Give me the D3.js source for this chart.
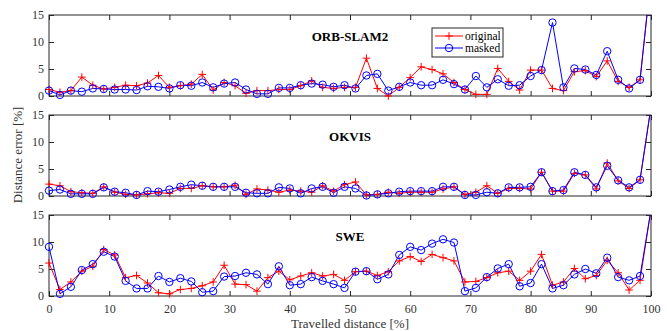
<!DOCTYPE html>
<html>
<head>
<meta charset="utf-8">
<script src="https://cdn.jsdelivr.net/npm/d3@7"></script>
<style>
  body { margin: 0; background: #fff; }
  svg text { font-family: "Liberation Serif", "DejaVu Serif", serif; fill: #262626; }
</style>
</head>
<body>
<svg id="chart" width="667" height="331"></svg>
<script>
// travelled distance: 56 samples from 0 to 100 %
var xs = d3.range(56).map(function (i) { return i * 100 / 55; });
var xTicks = [0, 10, 20, 30, 40, 50, 60, 70, 80, 90, 100];
var yTicks = [0, 5, 10, 15];
var titles = ["ORB-SLAM2", "OKVIS", "SWE"];
var seriesNames = ["original", "masked"];

var orbOriginal = [1.2,0.7,1.0,3.5,2.0,1.3,1.6,2.0,1.9,2.4,3.8,1.6,1.9,2.2,4.0,1.1,2.5,1.9,0.5,1.0,
  1.0,1.2,1.2,1.9,2.8,1.6,1.4,1.6,1.6,7.0,1.4,0.0,1.6,3.4,5.4,4.9,4.1,2.5,1.2,0.3,
  0.3,5.1,2.7,1.1,4.8,4.8,1.4,1.0,4.5,4.7,3.6,6.5,2.7,1.6,3.0,22];
var orbMasked = [1.0,0.2,1.0,0.8,1.4,1.3,1.2,1.2,1.1,1.8,1.7,1.4,2.0,1.9,2.5,1.6,2.3,2.5,1.2,0.4,
  0.4,1.5,1.5,2.0,2.3,2.1,1.7,2.0,1.4,3.8,4.1,1.0,1.7,2.5,2.0,2.0,3.0,2.2,1.2,3.7,
  1.6,3.1,1.9,2.0,3.7,4.8,13.6,1.6,5.1,4.9,3.9,8.3,3.0,1.4,3.0,22];
var okvisOriginal = [2.2,1.9,0.8,0.6,0.5,1.7,0.7,0.3,0.2,0.4,0.6,0.5,1.4,1.4,1.9,1.7,1.7,2.0,0.3,1.3,
  1.1,0.7,1.1,0.9,0.7,1.9,0.9,2.1,2.6,0.2,0.3,0.7,0.5,0.7,0.7,0.7,1.3,1.7,0.3,0.7,
  1.9,0.5,1.4,1.4,1.3,4.4,0.9,0.9,4.2,3.9,1.3,6.1,2.8,1.4,3.0,16.5];
var okvisMasked = [1.0,1.2,0.4,0.4,0.4,1.6,0.8,0.6,0.2,0.9,0.8,1.2,1.7,2.1,1.9,1.7,1.7,1.7,0.6,0.5,
  0.5,1.6,1.4,0.5,1.4,1.7,0.6,1.7,1.4,0.1,0.3,0.5,0.8,0.9,0.9,0.9,1.7,1.7,0.2,0.2,
  0.7,0.5,1.6,1.6,1.7,4.4,0.9,1.1,4.4,3.9,1.6,5.6,2.9,1.6,3.0,16.5];
var sweOriginal = [6.1,1.2,2.6,4.6,5.5,8.6,7.6,3.4,3.8,2.4,0.6,0.4,1.2,1.4,1.9,2.6,5.7,2.2,2.1,0.9,
  3.4,4.6,3.0,3.7,4.3,3.7,4.0,2.9,4.5,4.6,3.8,4.5,6.5,7.3,6.4,7.7,7.1,6.5,2.6,2.7,
  3.4,4.3,4.6,2.9,4.6,7.7,2.0,2.6,5.1,3.2,3.8,6.6,4.3,1.1,2.9,16];
var sweMasked = [9.1,0.4,1.7,4.8,5.9,8.2,7.3,2.8,1.4,1.4,3.7,2.6,3.3,2.7,0.7,0.9,3.6,3.7,4.3,4.0,
  2.2,5.5,2.0,2.2,3.5,2.8,2.2,1.5,4.5,4.6,3.1,4.0,7.6,9.1,8.5,9.7,10.5,9.9,0.9,1.5,
  3.5,5.1,5.9,1.8,2.4,5.9,1.4,2.0,4.0,5.0,4.2,7.1,3.5,2.9,3.7,16];

var panels = [
  {title: titles[0], original: orbOriginal, masked: orbMasked, top: 15, bottom: 96},
  {title: titles[1], original: okvisOriginal, masked: okvisMasked, top: 115, bottom: 196},
  {title: titles[2], original: sweOriginal, masked: sweMasked, top: 215, bottom: 296}
];

var svg = d3.select("#chart");
var left = 49, right = 651;
var x = d3.scaleLinear().domain([0, 100]).range([left, right]);
var axisColor = "#262626";

panels.forEach(function (p, k) {
  var y = d3.scaleLinear().domain([0, 15]).range([p.bottom, p.top]);
  var g = svg.append("g");

  g.append("clipPath").attr("id", "clip" + k)
    .append("rect")
    .attr("x", left).attr("y", p.top)
    .attr("width", right - left).attr("height", p.bottom - p.top);

  // ticks pointing inward on all four sides
  g.append("g").attr("transform", "translate(0," + p.bottom + ")")
    .call(d3.axisBottom(x).tickValues(xTicks).tickSizeInner(-5).tickSizeOuter(0)
      .tickFormat(k == 2 ? d3.format("d") : ""))
    .call(function (a) {
      a.select(".domain").remove();
      a.selectAll("line").attr("stroke", axisColor);
      a.selectAll("text").attr("font-size", 12).attr("dy", "1.15em").attr("y", 3).style("fill", "#333");
    });
  g.append("g").attr("transform", "translate(0," + p.top + ")")
    .call(d3.axisTop(x).tickValues(xTicks).tickSizeInner(-5).tickSizeOuter(0).tickFormat(""))
    .call(function (a) { a.select(".domain").remove(); a.selectAll("line").attr("stroke", axisColor); });
  g.append("g").attr("transform", "translate(" + left + ",0)")
    .call(d3.axisLeft(y).tickValues(yTicks).tickSizeInner(-5).tickSizeOuter(0).tickFormat(d3.format("d")))
    .call(function (a) {
      a.select(".domain").remove();
      a.selectAll("line").attr("stroke", axisColor);
      a.selectAll("text").attr("font-size", 12).attr("x", -5).style("fill", "#333");
    });
  g.append("g").attr("transform", "translate(" + right + ",0)")
    .call(d3.axisRight(y).tickValues(yTicks).tickSizeInner(-5).tickSizeOuter(0).tickFormat(""))
    .call(function (a) { a.select(".domain").remove(); a.selectAll("line").attr("stroke", axisColor); });

  g.append("rect")
    .attr("x", left).attr("y", p.top)
    .attr("width", right - left).attr("height", p.bottom - p.top)
    .attr("fill", "none").attr("stroke", axisColor).attr("stroke-width", 1);

  g.append("text")
    .attr("x", 350).attr("y", p.top + 26)
    .attr("text-anchor", "middle")
    .attr("font-size", 13).attr("font-weight", "bold")
    .style("fill", "#000")
    .text(p.title);

  // lines are clipped to the box; markers are only drawn when inside the y range
  var plot = g.append("g").attr("clip-path", "url(#clip" + k + ")");
  var marks = g.append("g");
  var line = d3.line().x(function (d, i) { return x(xs[i]); }).y(function (d) { return y(d); });
  var inside = function (v) { return v.map(function (d, i) { return {v: d, i: i}; })
    .filter(function (d) { return d.v <= 15; }); };

  plot.append("path").datum(p.original)
    .attr("d", line).attr("fill", "none").attr("stroke", "#ff0000").attr("stroke-width", 1);
  plot.append("path").datum(p.masked)
    .attr("d", line).attr("fill", "none").attr("stroke", "#0000ff").attr("stroke-width", 1);

  marks.selectAll(".plus").data(inside(p.original)).enter().append("path")
    .attr("class", "plus")
    .attr("d", function (d) {
      var cx = x(xs[d.i]), cy = y(d.v), s = 3.8;
      return "M" + (cx - s) + "," + cy + "H" + (cx + s) + "M" + cx + "," + (cy - s) + "V" + (cy + s);
    })
    .attr("stroke", "#ff0000").attr("stroke-width", 1);

  marks.selectAll(".circ").data(inside(p.masked)).enter().append("circle")
    .attr("class", "circ")
    .attr("cx", function (d) { return x(xs[d.i]); })
    .attr("cy", function (d) { return y(d.v); })
    .attr("r", 3.7)
    .attr("fill", "none").attr("stroke", "#0000ff").attr("stroke-width", 1);
});

// legend in the top panel
var lg = svg.append("g");
lg.append("rect").attr("x", 432).attr("y", 28).attr("width", 71).attr("height", 29)
  .attr("fill", "#fff").attr("stroke", axisColor).attr("stroke-width", 1);
var legendColors = ["#ff0000", "#0000ff"];
seriesNames.forEach(function (name, i) {
  var ly = 36 + i * 12;
  lg.append("line").attr("x1", 435).attr("x2", 463).attr("y1", ly).attr("y2", ly)
    .attr("stroke", legendColors[i]).attr("stroke-width", 1);
  if (i == 0) {
    lg.append("path").attr("d", "M445.2," + ly + "H452.8M449," + (ly - 3.8) + "V" + (ly + 3.8))
      .attr("stroke", legendColors[i]);
  } else {
    lg.append("circle").attr("cx", 449).attr("cy", ly).attr("r", 3.7)
      .attr("fill", "none").attr("stroke", legendColors[i]);
  }
  lg.append("text").attr("x", 465).attr("y", ly + 4).attr("font-size", 11.5)
    .style("fill", "#000").text(name);
});

svg.append("text")
  .attr("x", 350).attr("y", 328)
  .attr("text-anchor", "middle").attr("font-size", 13)
  .style("fill", "#333")
  .text("Travelled distance [%]");

svg.append("text")
  .attr("transform", "translate(22,155) rotate(-90)")
  .attr("text-anchor", "middle").attr("font-size", 13)
  .style("fill", "#333")
  .text("Distance error [%]");
</script>
</body>
</html>
